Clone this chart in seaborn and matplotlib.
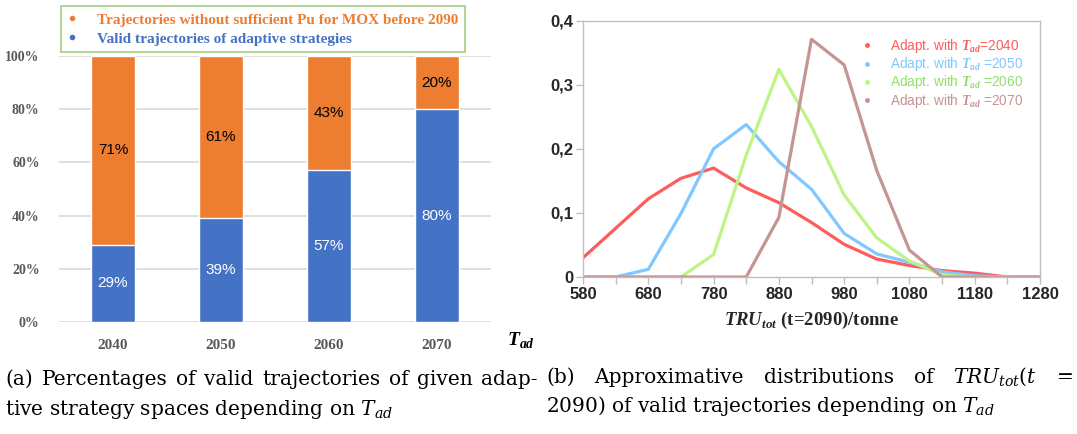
import numpy as np
import pandas as pd
import matplotlib
matplotlib.use("Agg")
import matplotlib.pyplot as plt
import seaborn as sns
from matplotlib.lines import Line2D
from matplotlib.font_manager import FontProperties

# =========================================
# DATA
# =========================================

years = ["2040", "2050", "2060", "2070"]
valid_pct = [29, 39, 57, 80]
invalid_pct = [71, 61, 43, 20]

bar_legend = ["Trajectories without sufficient Pu for MOX before 2090",
              "Valid trajectories of adaptive strategies"]

tru = [580, 630, 680, 730, 780, 830, 880, 930, 980, 1030, 1080, 1130, 1180, 1230, 1280]
p_2040 = [0.030, 0.076, 0.122, 0.154, 0.170, 0.139, 0.116, 0.085, 0.051, 0.028, 0.018, 0.010, 0.006, 0.0, 0.0]
p_2050 = [0.0, 0.0, 0.012, 0.099, 0.200, 0.238, 0.180, 0.137, 0.068, 0.036, 0.023, 0.008, 0.002, 0.0, 0.0]
p_2060 = [0.0, 0.0, 0.0, 0.0, 0.035, 0.190, 0.324, 0.235, 0.128, 0.061, 0.025, 0.003, 0.0, 0.0, 0.0]
p_2070 = [0.0, 0.0, 0.0, 0.0, 0.0, 0.0, 0.093, 0.371, 0.331, 0.166, 0.042, 0.0, 0.0, 0.0, 0.0]

line_labels = [r"Adapt. with $\mathbfit{T}_{\mathbfit{ad}}$=2040",
               r"Adapt. with $\mathbfit{T}_{\mathbfit{ad}}$ =2050",
               r"Adapt. with $\mathbfit{T}_{\mathbfit{ad}}$ =2060",
               r"Adapt. with $\mathbfit{T}_{\mathbfit{ad}}$ =2070"]

y_ticks = [0, 0.1, 0.2, 0.3, 0.4]
y_tick_labels = ["0", "0,1", "0,2", "0,3", "0,4"]

# =========================================
# STYLE
# =========================================

sns.set_theme(style="white")
plt.rcParams["font.family"] = ["Liberation Sans", "DejaVu Sans"]
plt.rcParams["mathtext.fontset"] = "custom"
plt.rcParams["mathtext.rm"] = "DejaVu Serif"
plt.rcParams["mathtext.it"] = "DejaVu Serif:italic"
plt.rcParams["mathtext.bf"] = "Liberation Serif:bold"
plt.rcParams["mathtext.bfit"] = "Liberation Serif:italic:bold"

W, H = 1077, 434
ORANGE = "#ED7D31"
BLUE = "#4472C4"
GRAY_TXT = "#595959"
line_colors = ["#FF5C5C", "#80C8FF", "#BDF585", "#C49593"]
text_colors = ["#FF5C5C", "#80C8FF", "#8FE06A", "#C49593"]

fig = plt.figure(figsize=(W / 100, H / 100), dpi=100)


def px_axes(x0, y_top, x1, y_bot):
    return fig.add_axes([x0 / W, 1 - y_bot / H, (x1 - x0) / W, (y_bot - y_top) / H])


# -----------------------------------
# LEFT : STACKED BARS
# -----------------------------------

ax1 = px_axes(59, 56, 491, 322)

df_bar = pd.DataFrame({"year": years, "valid": valid_pct, "invalid": invalid_pct})
df_bar["total"] = df_bar["valid"] + df_bar["invalid"]

sns.barplot(data=df_bar, x="year", y="total", color=ORANGE, width=0.4,
            saturation=1, ax=ax1, zorder=3)
sns.barplot(data=df_bar, x="year", y="valid", color=BLUE, width=0.4,
            saturation=1, ax=ax1, zorder=3)

for i, row in df_bar.iterrows():
    ax1.text(i, row["valid"] / 2, f"{row['valid']}%", ha="center", va="center",
             color="white", fontsize=11, zorder=4)
    ax1.text(i, row["valid"] + row["invalid"] / 2, f"{row['invalid']}%",
             ha="center", va="center", color="black", fontsize=11, zorder=4)

ax1.set_xlim(-0.5, 3.5)
ax1.set_ylim(0, 100)
ax1.set_yticks([0, 20, 40, 60, 80, 100])
ax1.set_yticklabels([f"{v}%" for v in [0, 20, 40, 60, 80, 100]])
ax1.grid(axis="y", color="#D9D9D9", linewidth=1.2, zorder=0)
ax1.set_xlabel("")
ax1.set_ylabel("")
for s in ax1.spines.values():
    s.set_visible(False)
ax1.tick_params(length=0)
ax1.tick_params(axis="y", pad=14)
ax1.tick_params(axis="x", pad=12)
for lab in ax1.get_xticklabels() + ax1.get_yticklabels():
    lab.set_family("Liberation Serif")
    lab.set_weight("bold")
    lab.set_color(GRAY_TXT)
for lab in ax1.get_xticklabels():
    lab.set_fontsize(11)
for lab in ax1.get_yticklabels():
    lab.set_fontsize(10)

fig.text(507 / W, 1 - 345 / H, r"$\mathbfit{T}_{\mathbfit{ad}}$", fontsize=14,
         ha="left", va="baseline", color="black")

bar_handles = [Line2D([], [], marker="o", linestyle="", markersize=3, color=c)
               for c in [ORANGE, BLUE]]
leg1 = fig.legend(bar_handles, bar_legend, loc="upper left",
                  bbox_to_anchor=(61 / W, 1 - 6 / H), bbox_transform=fig.transFigure,
                  borderaxespad=0, fancybox=False, frameon=True,
                  prop=FontProperties(family="Liberation Serif", weight="bold", size=11),
                  labelcolor=[ORANGE, BLUE], handletextpad=1.3, handlelength=0.6,
                  labelspacing=0.35, borderpad=0.45, handleheight=0.7)
leg1.get_frame().set_edgecolor("#8CC063")
leg1.get_frame().set_linewidth(1.2)

# -----------------------------------
# RIGHT : DISTRIBUTIONS
# -----------------------------------

ax2 = px_axes(583, 20.7, 1040, 277)

df_line = pd.DataFrame({
    "tru": tru * 4,
    "p": p_2040 + p_2050 + p_2060 + p_2070,
    "tad": ["2040"] * len(tru) + ["2050"] * len(tru) + ["2060"] * len(tru) + ["2070"] * len(tru),
})
sns.lineplot(data=df_line, x="tru", y="p", hue="tad", palette=line_colors,
             linewidth=2.3, ax=ax2, legend=False)

ax2.set_xlim(580, 1280)
ax2.set_ylim(0, 0.4)
ax2.set_xticks(list(range(580, 1281, 100)))
ax2.set_xticks(list(range(630, 1281, 100)), minor=True)
ax2.set_yticks(y_ticks)
ax2.set_yticklabels(y_tick_labels)
ax2.set_xlabel(r"$\mathbfit{TRU}_{\mathbfit{tot}}$ (t=2090)/tonne",
               fontfamily="Liberation Serif", fontweight="bold", fontsize=13.5,
               labelpad=6)
ax2.set_ylabel("")
for s in ax2.spines.values():
    s.set_color("#BFBFBF")
    s.set_linewidth(1)
ax2.tick_params(which="both", direction="out", length=5, color="#BFBFBF", width=1,
                labelsize=12, pad=2)
ax2.tick_params(axis="x", which="both", bottom=True)
ax2.tick_params(axis="y", left=True)
for lab in ax2.get_xticklabels() + ax2.get_yticklabels():
    lab.set_weight("bold")

line_handles = [Line2D([], [], marker="o", linestyle="", markersize=2.5, color=c)
                for c in line_colors]
ax2.legend(line_handles, line_labels, loc="upper right",
           bbox_to_anchor=(0.99, 0.985), frameon=False, fontsize=9.8,
           labelcolor=text_colors, handletextpad=1.2, handlelength=1.0,
           labelspacing=0.02, handleheight=0.5)

# -----------------------------------
# CAPTIONS
# -----------------------------------

cap_kw = dict(fontfamily="DejaVu Serif", fontsize=14.5, va="baseline", color="black")


def justify(words, x0, x1, y):
    texts = [fig.text(0, 1 - y / H, w, **cap_kw) for w in words]
    renderer = fig.canvas.get_renderer()
    widths = [t.get_window_extent(renderer).width for t in texts]
    gap = (x1 - x0 - sum(widths)) / (len(words) - 1)
    x = x0
    for t, w in zip(texts, widths):
        t.set_x(x / W)
        x += w + gap


justify(["(a)", "Percentages", "of", "valid", "trajectories", "of", "given", "adap-"],
        5, 538, 385)
fig.text(5 / W, 1 - 415 / H, r"tive strategy spaces depending on $T_{ad}$", **cap_kw)

justify(["(b)", "Approximative", "distributions", "of", r"$TRU_{tot}(t$", "="],
        546, 1074, 383)
fig.text(546 / W, 1 - 412 / H, r"2090) of valid trajectories depending on $T_{ad}$", **cap_kw)

fig.savefig("out.png", dpi=100)
